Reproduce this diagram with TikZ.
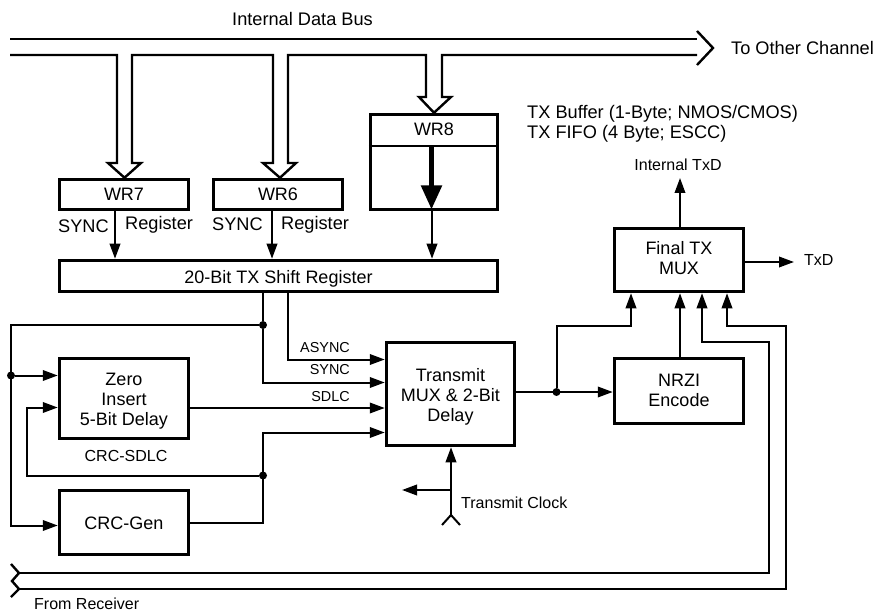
\documentclass[tikz,border=0pt]{standalone}
\usepackage{fontspec}
\setmainfont{Liberation Sans}
\usetikzlibrary{arrows.meta}
\tikzset{
  x=1pt,y=-1pt,
  regbox/.style={draw,line width=3.5pt,inner sep=0pt,align=center,fill=white},
  main/.style={font=\fontsize{18}{20}\selectfont},
  boxtext/.style={main,align=center,inner sep=0pt,yshift=#1},
  lbl/.style={inner sep=0pt,align=left,font=\fontsize{18.2}{20}\selectfont},
  small/.style={inner sep=0pt,font=\fontsize{16}{18}\selectfont},
  tiny/.style={inner sep=0pt,font=\fontsize{14.4}{16}\selectfont},
  wire/.style={line width=2pt},
  arr/.style={wire,-{Triangle[length=15pt,width=10.5pt]}},
  busline/.style={line width=2.4pt,miter limit=10},
  junction/.style={circle,fill=black,inner sep=0pt,minimum size=8pt},
}
\begin{document}
\begin{tikzpicture}
\useasboundingbox (0,0) rectangle (880,612);
% boxes
\node[regbox,main,minimum width=129pt,minimum height=30pt] (wr7) at (124,194.5) {WR7};
\node[regbox,main,minimum width=129pt,minimum height=30pt] (wr6) at (278,194.5) {WR6};
\node[regbox,minimum width=127pt,minimum height=95pt] (wr8) at (434,162) {};
\node[inner sep=0pt,main] (wr8t) at (434,129) {WR8};
\node[regbox,minimum width=438pt,minimum height=31pt,label={[boxtext=-2.5pt]center:{20-Bit TX Shift Register}}] (shift) at (278.5,276) {};
\node[regbox,minimum width=129pt,minimum height=80pt,label={[boxtext=-3pt]center:{Zero\\Insert\\5-Bit Delay}}] (zero) at (124,398.5) {};
\node[regbox,minimum width=129pt,minimum height=64pt,label={[boxtext=-1pt]center:{CRC-Gen}}] (crc) at (124,522.5) {};
\node[regbox,minimum width=128pt,minimum height=103pt,label={[boxtext=-3pt]center:{Transmit\\MUX \& 2-Bit\\Delay}}] (txmux) at (450.5,394) {};
\node[regbox,minimum width=129pt,minimum height=63pt,label={[boxtext=2pt]center:{Final TX\\MUX}}] (final) at (679,260) {};
\node[regbox,minimum width=129pt,minimum height=65pt,label={[boxtext=1pt]center:{NRZI\\Encode}}] (nrzi) at (679,391) {};
% columns and rows of the wiring
\coordinate (tip7) at ([xshift=0.5pt]wr7.north);
\coordinate (tip6) at ([xshift=2pt]wr6.north);
\coordinate (tip8) at (wr8.north);
\coordinate (c7) at (115,0);
\coordinate (c6) at (272,0);
\coordinate (c8) at (432,0);
\coordinate (cT) at (263,0);
\coordinate (cA) at (288,0);
\coordinate (cL) at (11,0);
\coordinate (cF) at (27,0);
\coordinate (cC) at (451,0);
\coordinate (cO) at (556.5,0);
\coordinate (cM1) at (631,0);
\coordinate (cM2) at (680,0);
\coordinate (cM3) at (702,0);
\coordinate (cM4) at (727,0);
\coordinate (cR1) at (769,0);
\coordinate (cR2) at (786,0);
\coordinate (rT) at (0,325);
\coordinate (rAs) at (0,359.5);
\coordinate (rSy) at (0,382.5);
\coordinate (rSd) at (0,408);
\coordinate (rCr) at (0,432.5);
\coordinate (rFb) at (0,475.5);
\coordinate (rZ1) at (0,375.5);
\coordinate (rZ2) at (0,407.5);
\coordinate (rG) at (0,525.5);
\coordinate (rB1) at (0,573);
\coordinate (rB2) at (0,589);
\coordinate (rO) at (0,392);
\coordinate (rU1) at (0,326);
\coordinate (rU2) at (0,342);
% internal data bus
\draw[busline] (10,39) -- (697,39);
\draw[busline] (697,31) -- (713,48) -- (697,65);
\draw[busline] (10,55) -- (117,55) -- (117,163) -- (108,163) -- (tip7) -- (141,163) -- (132,163) -- (132,55)
  -- (273,55) -- (273,163) -- (263,163) -- (tip6) -- (296,163) -- (288,163) -- (288,55)
  -- (426,55) -- (426,97) -- (419,97) -- (tip8) -- (451,97) -- (442,97) -- (442,55) -- (697,55);
% WR8 interior
\draw[line width=2pt] (wr8.west |- 0,146) -- (wr8.east |- 0,146);
\draw[line width=5pt,-{Triangle[length=24pt,width=20pt]}] (431.5,147) -- (431.5,209.5);
% register arrows
\draw[arr] (c7 |- wr7.south) -- (c7 |- shift.north);
\draw[arr] (c6 |- wr6.south) -- (c6 |- shift.north);
\draw[arr] (c8 |- wr8.south) -- (c8 |- shift.north);
% shift register outputs
\node[junction] (jT) at (cT |- rT) {};
\node[junction] (jL) at (cL |- rZ1) {};
\node[junction] (jF) at (cT |- rFb) {};
\node[junction] (jO) at (cO |- rO) {};
\draw[wire] (cT |- shift.south) -- (jT);
\draw[arr] (jT) -- (cT |- rSy) -- (txmux.west |- rSy);
\draw[arr] (cA |- shift.south) -- (cA |- rAs) -- (txmux.west |- rAs);
\draw[arr] (jT) -- (cL |- rT) -- (cL |- rG) -- (crc.west |- rG);
\draw[arr] (jL) -- (zero.west |- rZ1);
\draw[arr] (zero.east |- rSd) -- (txmux.west |- rSd);
\draw[arr] (crc.east) -- (cT |- crc.east) -- (cT |- rCr) -- (txmux.west |- rCr);
\draw[arr] (jF) -- (cF |- rFb) -- (cF |- rZ2) -- (zero.west |- rZ2);
% transmit clock
\coordinate (clkY) at (cC |- 0,515);
\coordinate (clkB) at (cC |- 0,490);
\coordinate (clkL) at (402,490);
\draw[arr] (clkY) -- (cC |- txmux.south);
\draw[arr] (clkB) -- (clkL);
\draw[wire] (442,525) -- (clkY) -- (460,525);
% output side
\draw[arr] (txmux.east |- rO) -- (nrzi.west |- rO);
\draw[arr] (jO) -- (cO |- rU1) -- (cM1 |- rU1) -- (cM1 |- final.south);
\draw[arr] (cM2 |- nrzi.north) -- (cM2 |- final.south);
\draw[arr] (cM2 |- final.north) -- (680,178);
\draw[arr] (final.east |- 0,262) -- (794,262);
% loop back from receiver
\draw[arr] (19,573) -- (cR1 |- rB1) -- (cR1 |- rU2) -- (cM3 |- rU2) -- (cM3 |- final.south);
\draw[arr] (19,589) -- (cR2 |- rB2) -- (cR2 |- rU1) -- (cM4 |- rU1) -- (cM4 |- final.south);
\draw[line width=2.4pt] (11,564) -- (19,573) -- (12,581) -- (19,589) -- (11,597);
% labels
\node[lbl,anchor=west] (tbus) at (232,19) {Internal Data Bus};
\node[lbl,anchor=west] (toc) at (731,48) {To Other Channel};
\node[lbl,anchor=west] (buf1) at (527,114) {TX Buffer (1-Byte; NMOS/CMOS)};
\node[lbl,anchor=west] (buf2) at (527,134) {TX FIFO (4 Byte; ESCC)};
\node[small,anchor=center] (itx) at (678,165) {Internal TxD};
\node[small,anchor=west] (txd) at (804,260) {TxD};
\node[small,anchor=west] (clk) at (461,503) {Transmit Clock};
\node[small,anchor=west] (from) at (34,604) {From Receiver};
\node[small,anchor=center] (csd) at (126,456) {CRC-SDLC};
\node[tiny,anchor=east] (tas) at (350,348) {ASYNC};
\node[tiny,anchor=east] (tsy) at (350,370) {SYNC};
\node[tiny,anchor=east] (tsd) at (350,397) {SDLC};
\node[lbl,anchor=west] (s7) at (58,226) {SYNC};
\node[lbl,anchor=west] (r7) at (125,225) {Register};
\node[lbl,anchor=west] (s6) at (212,224) {SYNC};
\node[lbl,anchor=west] (r6) at (281,225) {Register};
\end{tikzpicture}
\end{document}
